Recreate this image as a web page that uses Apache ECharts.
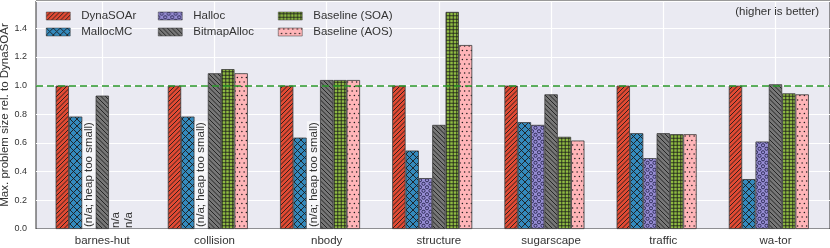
<!DOCTYPE html>
<html><head><meta charset="utf-8">
<script src="https://cdn.jsdelivr.net/npm/echarts@6/dist/echarts.min.js"></script>
<style>html,body{margin:0;padding:0;background:#fff}#c{width:830px;height:248px}</style>
</head><body><div id="c"></div>
<script>
const categories = ['barnes-hut','collision','nbody','structure','sugarscape','traffic','wa-tor'];
const seriesNames = ['DynaSOAr','MallocMC','Halloc','BitmapAlloc','Baseline (SOA)','Baseline (AOS)'];
const dynasoar    = [1.0, 1.0, 1.0, 1.0, 1.0, 1.0, 1.0];
const mallocmc    = [0.784, 0.784, 0.637, 0.547, 0.745, 0.668, 0.348];
const halloc      = [null, null, null, 0.355, 0.726, 0.494, 0.610];
const bitmapalloc = [0.930, 1.086, 1.039, 0.726, 0.939, 0.668, 1.009];
const baselineSoa = [null, 1.115, 1.039, 1.514, 0.643, 0.661, 0.946];
const baselineAos = [null, 1.086, 1.039, 1.283, 0.617, 0.661, 0.939];
const naHallocText = '(n/a; heap too small)';
const naBaselineText = 'n/a';
const referenceLine = 1.0;
const yMax = 1.59;
const yInterval = 0.2;

const FONT = 'Liberation Sans, Arial, sans-serif';
const TXT = '#333333';

function pat(bg, size, draw) {
  const c = document.createElement('canvas');
  c.width = size; c.height = size;
  const g = c.getContext('2d');
  g.fillStyle = bg; g.fillRect(0, 0, size, size);
  g.strokeStyle = '#1c1c1c'; g.fillStyle = '#1c1c1c'; g.lineWidth = 0.9;
  draw(g, size);
  return { image: c, repeat: 'repeat' };
}
function diag(g, s, step, dir) {
  for (let c = -3 * s; c <= 3 * s; c += step) {
    g.beginPath();
    if (dir > 0) { g.moveTo(-s, c + s); g.lineTo(2 * s, c - 2 * s); }
    else { g.moveTo(-s, -s - c); g.lineTo(2 * s, 2 * s - c); }
    g.stroke();
  }
}
const patterns = [
  pat('#E24A33', 9, (g, s) => diag(g, s, 4.5, 1)),
  pat('#348ABD', 7, (g, s) => { diag(g, s, 7, 1); diag(g, s, 7, -1); }),
  pat('#988ED5', 7, (g, s) => {
    g.strokeStyle = '#1a1a40'; g.lineWidth = 0.8;
    const cs = [[3.5, 1.75], [0, 5.25], [7, 5.25], [3.5, 8.75], [3.5, -1.75], [0, -1.75], [7, -1.75]];
    cs.forEach(p => { g.beginPath(); g.arc(p[0], p[1], 1.6, 0, Math.PI * 2); g.stroke(); });
  }),
  pat('#777777', 9, (g, s) => diag(g, s, 4.5, -1)),
  pat('#8EBA42', 7, (g, s) => {
    g.lineWidth = 0.8;
    [1.75, 5.25].forEach(v => {
      g.beginPath(); g.moveTo(0, v); g.lineTo(s, v); g.stroke();
      g.beginPath(); g.moveTo(v, 0); g.lineTo(v, s); g.stroke();
    });
  }),
  pat('#FFB5B8', 9, (g, s) => {
    const ds = [[1.1, 1.1], [5.6, 1.1], [3.35, 5.6], [7.85, 5.6]];
    ds.forEach(p => { g.beginPath(); g.arc(p[0], p[1], 0.75, 0, Math.PI * 2); g.fill(); });
  })
];

function barData(vals, naText, withBg) {
  return vals.map(v => v === null ? {
    value: 0,
    itemStyle: { color: 'rgba(0,0,0,0)', borderWidth: 0 },
    label: {
      show: true, formatter: naText, position: 'insideBottom', rotate: 90,
      align: 'left', verticalAlign: 'middle', distance: 1,
      fontFamily: FONT, fontSize: 11.5, color: TXT,
      backgroundColor: withBg ? 'rgba(255,255,255,0.55)' : 'transparent',
      padding: withBg ? [1, 1, 0, 1] : 0
    }
  } : v);
}

const allVals = [dynasoar, mallocmc, halloc, bitmapalloc, baselineSoa, baselineAos];
const naTexts = [null, null, naHallocText, null, naBaselineText, naBaselineText];

const series = allVals.map((vals, i) => ({
  name: seriesNames[i], type: 'bar', xAxisIndex: 1, yAxisIndex: 1,
  barGap: '0%', barCategoryGap: '16.8%',
  itemStyle: { color: patterns[i], borderColor: '#3a3a3a', borderWidth: 0.8 },
  data: barData(vals, naTexts[i], i === 2)
}));
// spacer slot so the group sits like the original (ticks at 4th bar)
series.push({
  name: 'spacer', type: 'bar', xAxisIndex: 1, yAxisIndex: 1, silent: true,
  barGap: '0%', barCategoryGap: '16.8%',
  itemStyle: { color: 'rgba(0,0,0,0)', borderWidth: 0 },
  data: categories.map(() => null)
});
series.push({
  name: 'ref', type: 'line', xAxisIndex: 0, yAxisIndex: 0, z: 10, silent: true,
  data: [],
  markLine: {
    silent: true, symbol: ['none', 'none'], label: { show: false },
    lineStyle: { color: '#2a962a', type: [7, 4], width: 1.6 },
    data: [{ yAxis: referenceLine }]
  }
});

const legendCommon = {
  orient: 'vertical', top: 9, padding: 0, itemGap: 2,
  icon: 'rect', itemWidth: 24, itemHeight: 8,
  itemStyle: { borderWidth: 0.5 },
  textStyle: { fontFamily: FONT, fontSize: 11.5, color: TXT, lineHeight: 14, padding: [0, 0, 0, 6] },
  selectedMode: false
};

const chart = echarts.init(document.getElementById('c'), null, { renderer: 'canvas' });
chart.setOption({
  animation: false,
  backgroundColor: '#ffffff',
  title: {
    text: '(higher is better)', right: 11, top: 6, padding: 0,
    textStyle: { fontFamily: FONT, fontSize: 11.5, fontWeight: 'normal', color: TXT }
  },
  legend: [
    Object.assign({ left: 46, data: [seriesNames[0], seriesNames[1]] }, legendCommon),
    Object.assign({ left: 158, data: [seriesNames[2], seriesNames[3]] }, legendCommon),
    Object.assign({ left: 278, data: [seriesNames[4], seriesNames[5]] }, legendCommon)
  ],
  grid: [
    { left: 36, right: 0, top: 1, bottom: 19, show: true, backgroundColor: '#eaeaf2',
      borderColor: '#333333', borderWidth: 1, z: 0, containLabel: false, outerBoundsMode: 'none' },
    { left: 46.2, width: 785.4, top: 1, bottom: 19, containLabel: false, outerBoundsMode: 'none' }
  ],
  xAxis: [
    { gridIndex: 0, type: 'value', min: 0, max: 1, show: false },
    { gridIndex: 1, type: 'category', data: categories,
      axisLine: { show: false }, axisTick: { show: false },
      axisLabel: { fontFamily: FONT, fontSize: 11.5, color: TXT, margin: 6 },
      splitLine: { show: true, alignWithLabel: true, lineStyle: { color: '#ffffff', width: 1.2 } } }
  ],
  yAxis: [
    { gridIndex: 0, type: 'value', min: 0, max: yMax, interval: yInterval,
      name: 'Max. problem size rel. to DynaSOAr', nameLocation: 'middle', nameGap: 25,
      nameMoveOverlap: false,
      nameTextStyle: { fontFamily: FONT, fontSize: 11.5, color: TXT },
      axisLine: { show: false }, axisTick: { show: false },
      axisLabel: { fontFamily: FONT, fontSize: 9, color: TXT, margin: 9, showMaxLabel: false,
        formatter: v => v.toFixed(1) },
      splitLine: { show: true, lineStyle: { color: '#ffffff', width: 1.2 } } },
    { gridIndex: 1, type: 'value', min: 0, max: yMax, show: false, splitLine: { show: false } }
  ],
  series: series
});
</script>
</body></html>
